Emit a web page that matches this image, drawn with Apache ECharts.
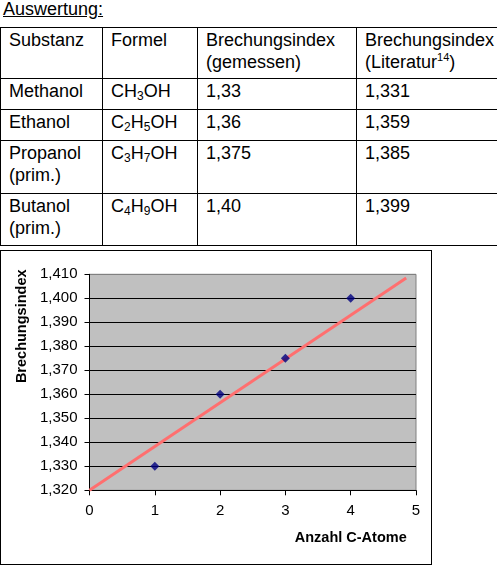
<!DOCTYPE html>
<html>
<head>
<meta charset="utf-8">
<script src="https://cdn.jsdelivr.net/npm/echarts@6/dist/echarts.min.js"></script>
<style>
  body { margin: 0; background: #fff; font-family: "Liberation Sans", Arial, sans-serif; color: #000; }
  #title { position: absolute; left: 3px; top: -2px; font-size: 18px; line-height: 22px; text-decoration: underline; }
  #tbl { position: absolute; left: 0; top: 27px; border-collapse: collapse; table-layout: fixed; width: 500px; }
  #tbl td { border: 1px solid #000; padding: 1px 0 0 8px; font-size: 18px; line-height: 22px; vertical-align: top; box-sizing: border-box; }
  #tbl sub { font-size: 12px; vertical-align: -3px; line-height: 0; }
  #tbl sup { font-size: 11px; vertical-align: 7px; line-height: 0; }
  #chart { position: absolute; left: 0; top: 250px; width: 432px; height: 315px; }
  #frame { position: absolute; left: 0; top: 250px; width: 432px; height: 315px; border: 1px solid #000; box-sizing: border-box; pointer-events: none; }
</style>
</head>
<body>
<div id="title">Auswertung:</div>
<table id="tbl">
  <colgroup><col style="width:102px"><col style="width:95px"><col style="width:159px"><col style="width:144px"></colgroup>
  <tbody id="tbody"></tbody>
</table>
<div id="chart"></div>
<div id="frame"></div>
<script>
// Tabelle
var headers = ['Substanz', 'Formel', 'Brechungsindex<br>(gemessen)', 'Brechungsindex<br>(Literatur<sup>14</sup>)'];
var substances = ['Methanol', 'Ethanol', 'Propanol<br>(prim.)', 'Butanol<br>(prim.)'];
var formulas = ['CH<sub>3</sub>OH', 'C<sub>2</sub>H<sub>5</sub>OH', 'C<sub>3</sub>H<sub>7</sub>OH', 'C<sub>4</sub>H<sub>9</sub>OH'];
var measuredText = ['1,33', '1,36', '1,375', '1,40'];
var literatureText = ['1,331', '1,359', '1,385', '1,399'];
var rowHeights = [51, 31, 31, 53, 52];

// Diagramm
var carbonAtoms = [1, 2, 3, 4];
var measured = [1.33, 1.36, 1.375, 1.40];
var trendX = [0, 4.85];
var trendY = [1.320, 1.4085];

var html = '<tr style="height:' + rowHeights[0] + 'px">';
for (var i = 0; i < headers.length; i++) html += '<td>' + headers[i] + '</td>';
html += '</tr>';
for (var r = 0; r < substances.length; r++) {
    html += '<tr style="height:' + rowHeights[r + 1] + 'px">' +
        '<td>' + substances[r] + '</td>' +
        '<td>' + formulas[r] + '</td>' +
        '<td>' + measuredText[r] + '</td>' +
        '<td>' + literatureText[r] + '</td></tr>';
}
document.getElementById('tbody').innerHTML = html;

var points = carbonAtoms.map(function (x, i) { return [x, measured[i]]; });
var trend = trendX.map(function (x, i) { return [x, trendY[i]]; });

var myChart = echarts.init(document.getElementById('chart'));
var gridColors = ['#000', '#000', '#000', '#000', '#000', '#000', '#000', '#000', '#000', '#808080'];
var option = {
    animation: false,
    textStyle: { fontFamily: 'Liberation Sans, Arial, sans-serif' },
    grid: {
        left: 89.5, top: 24.3, width: 326.5, height: 216,
        show: true, backgroundColor: '#c0c0c0', borderColor: '#808080', borderWidth: 1
    },
    xAxis: {
        type: 'value', min: 0, max: 5, interval: 1,
        name: 'Anzahl C-Atome', nameLocation: 'middle', nameGap: 40,
        nameTextStyle: { fontSize: 14.5, fontWeight: 'bold', color: '#000', padding: [0, 0, 0, 196] },
        axisLine: { show: true, lineStyle: { color: '#000', width: 1 } },
        axisTick: { show: true, length: 5, lineStyle: { color: '#000' } },
        axisLabel: { fontSize: 15, color: '#000', margin: 13 },
        splitLine: { show: false }
    },
    yAxis: {
        type: 'value', min: 1.32, max: 1.41, interval: 0.01,
        name: 'Brechungsindex', nameLocation: 'middle', nameRotate: 90, nameGap: 54,
        nameTextStyle: { fontSize: 14.5, fontWeight: 'bold', color: '#000', padding: [0, 0, 0, 112] },
        axisLine: { show: true, lineStyle: { color: '#000', width: 1 } },
        axisTick: { show: true, length: 5, lineStyle: { color: '#000' } },
        axisLabel: {
            fontSize: 15, color: '#000', margin: 12,
            formatter: function (v) { return v.toFixed(3).replace('.', ','); }
        },
        splitLine: { show: true, lineStyle: { color: gridColors, width: 1 } }
    },
    series: [
        {
            name: 'Trend', type: 'line', data: trend, showSymbol: false, silent: true, z: 2,
            lineStyle: { color: '#ff6f6f', width: 3 }
        },
        {
            name: 'Brechungsindex', type: 'scatter', data: points, symbol: 'diamond', symbolSize: 9, z: 3,
            itemStyle: { color: '#000080' }
        }
    ]
};
myChart.setOption(option);
</script>
</body>
</html>
